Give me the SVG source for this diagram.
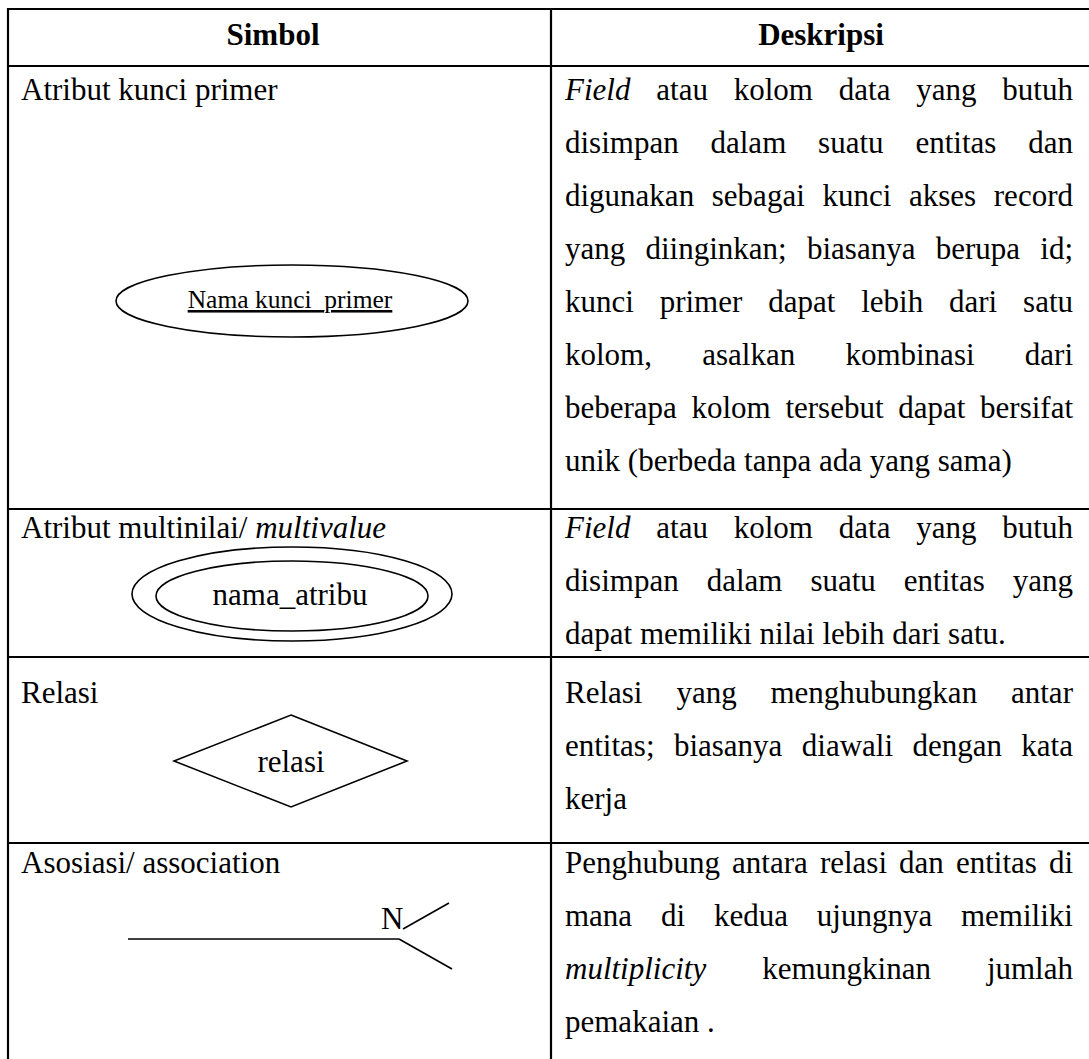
<svg xmlns="http://www.w3.org/2000/svg" width="1089" height="1059" viewBox="0 0 1089 1059">
<style>
  .t { font-family: "Liberation Serif", "Times New Roman", serif; font-size: 31px; fill: #000; }
  .s { font-size: 25.5px; }
  .b { font-weight: bold; }
  .i { font-style: italic; }
  .grid { stroke: #000; stroke-width: 2.2; fill: none; }
  .shape { stroke: #000; stroke-width: 1.6; fill: none; }
</style>
<rect width="1089" height="1059" fill="#fff"/>
<g id="table">
  <line class="grid" x1="8" y1="9" x2="1095" y2="9"/>
  <line class="grid" x1="8" y1="66" x2="1095" y2="66"/>
  <line class="grid" x1="8" y1="509" x2="1095" y2="509"/>
  <line class="grid" x1="8" y1="657" x2="1095" y2="657"/>
  <line class="grid" x1="8" y1="843" x2="1095" y2="843"/>
  <line class="grid" x1="8" y1="8" x2="8" y2="1070"/>
  <line class="grid" x1="551" y1="8" x2="551" y2="1070"/>
</g>
<g id="header">
  <text class="t b" x="273" y="45" text-anchor="middle">Simbol</text>
  <text class="t b" x="821" y="45" text-anchor="middle">Deskripsi</text>
</g>
<g id="row-primary-key">
  <text class="t" x="21" y="100">Atribut kunci primer</text>
  <ellipse class="shape" cx="292" cy="301" rx="176" ry="36"/>
  <text class="t s" x="290" y="308" text-anchor="middle" text-decoration="underline">Nama kunci_primer</text>
  <text class="t" y="100"><tspan class="i" x="565">Field</tspan><tspan x="656.3">atau</tspan><tspan x="733.7">kolom</tspan><tspan x="838.8">data</tspan><tspan x="916.3">yang</tspan><tspan x="1002.3">butuh</tspan></text>
  <text class="t" y="153"><tspan x="565">disimpan</tspan><tspan x="710.5">dalam</tspan><tspan x="818.1">suatu</tspan><tspan x="915.4">entitas</tspan><tspan x="1028.2">dan</tspan></text>
  <text class="t" y="206"><tspan x="565">digunakan</tspan><tspan x="711.8">sebagai</tspan><tspan x="822.5">kunci</tspan><tspan x="909.0">akses</tspan><tspan x="993.8">record</tspan></text>
  <text class="t" y="259"><tspan x="565">yang</tspan><tspan x="645.5">diinginkan;</tspan><tspan x="807.0">biasanya</tspan><tspan x="935.7">berupa</tspan><tspan x="1040.3">id;</tspan></text>
  <text class="t" y="312"><tspan x="565">kunci</tspan><tspan x="659.7">primer</tspan><tspan x="768.2">dapat</tspan><tspan x="861.2">lebih</tspan><tspan x="949.0">dari</tspan><tspan x="1023.1">satu</tspan></text>
  <text class="t" y="365"><tspan x="565">kolom,</tspan><tspan x="702.2">asalkan</tspan><tspan x="845.4">kombinasi</tspan><tspan x="1024.8">dari</tspan></text>
  <text class="t" y="418"><tspan x="565">beberapa</tspan><tspan x="691.5">kolom</tspan><tspan x="785.4">tersebut</tspan><tspan x="898.3">dapat</tspan><tspan x="980.1">bersifat</tspan></text>
  <text class="t" x="565" y="471">unik (berbeda tanpa ada yang sama)</text>
</g>
<g id="row-multivalue">
  <text class="t" x="21" y="538">Atribut multinilai/ <tspan class="i">multivalue</tspan></text>
  <ellipse class="shape" cx="292" cy="594" rx="160" ry="47"/>
  <ellipse class="shape" cx="292" cy="596" rx="136" ry="35"/>
  <text class="t" x="290" y="605" text-anchor="middle">nama_atribu</text>
  <text class="t" y="538"><tspan class="i" x="565">Field</tspan><tspan x="656.3">atau</tspan><tspan x="733.7">kolom</tspan><tspan x="838.8">data</tspan><tspan x="916.3">yang</tspan><tspan x="1002.3">butuh</tspan></text>
  <text class="t" y="591"><tspan x="565">disimpan</tspan><tspan x="706.7">dalam</tspan><tspan x="810.4">suatu</tspan><tspan x="903.8">entitas</tspan><tspan x="1012.7">yang</tspan></text>
  <text class="t" x="565" y="644">dapat memiliki nilai lebih dari satu.</text>
</g>
<g id="row-relasi">
  <text class="t" x="21" y="703">Relasi</text>
  <polygon class="shape" points="291,715 407,761 291,807 174,761"/>
  <text class="t" x="291" y="772" text-anchor="middle">relasi</text>
  <text class="t" y="703"><tspan x="565">Relasi</tspan><tspan x="676.4">yang</tspan><tspan x="770.5">menghubungkan</tspan><tspan x="1011.0">antar</tspan></text>
  <text class="t" y="756"><tspan x="565">entitas;</tspan><tspan x="673.9">biasanya</tspan><tspan x="801.8">diawali</tspan><tspan x="912.4">dengan</tspan><tspan x="1021.3">kata</tspan></text>
  <text class="t" x="565" y="809">kerja</text>
</g>
<g id="row-asosiasi">
  <text class="t" x="21" y="873">Asosiasi/ association</text>
  <text class="t" x="381" y="929">N</text>
  <text class="t" y="873"><tspan x="565">Penghubung</tspan><tspan x="732.1">antara</tspan><tspan x="819.9">relasi</tspan><tspan x="899.1">dan</tspan><tspan x="955.9">entitas</tspan><tspan x="1048.9">di</tspan></text>
  <text class="t" y="926"><tspan x="565">mana</tspan><tspan x="661.0">di</tspan><tspan x="714.0">kedua</tspan><tspan x="816.8">ujungnya</tspan><tspan x="961.0">memiliki</tspan></text>
  <text class="t" y="979"><tspan class="i" x="565">multiplicity</tspan><tspan x="762.2">kemungkinan</tspan><tspan x="986.9">jumlah</tspan></text>
  <text class="t" x="565" y="1032">pemakaian .</text>
</g>
<g id="connectors">
  <line class="shape" x1="128" y1="939" x2="399" y2="939"/>
  <line class="shape" x1="403" y1="929" x2="449" y2="903"/>
  <line class="shape" x1="399" y1="939" x2="452" y2="969"/>
</g>
</svg>
